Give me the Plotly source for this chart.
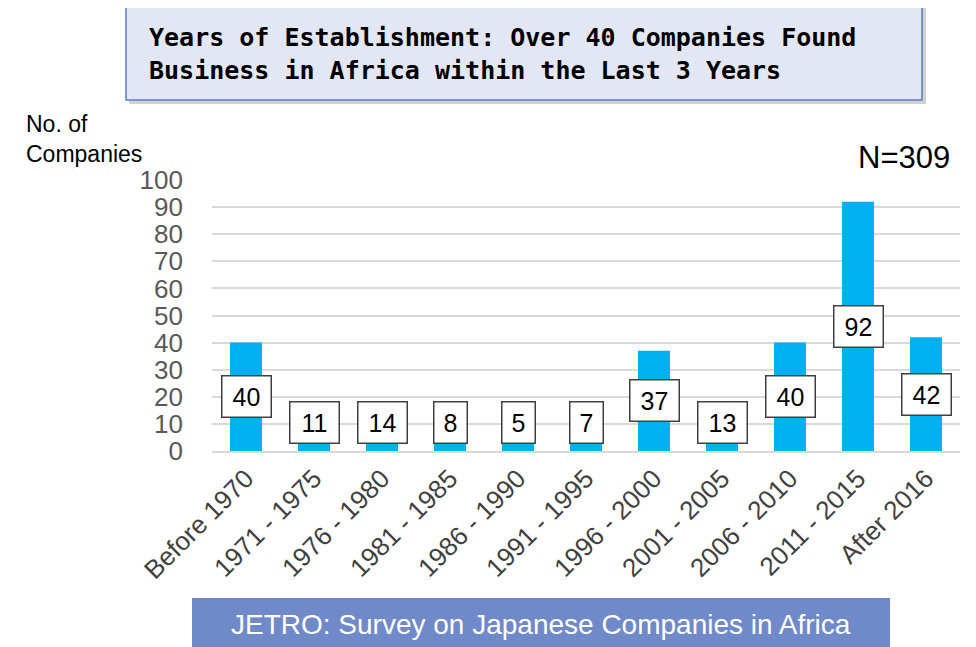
import plotly.graph_objects as go

categories = ["Before 1970", "1971 - 1975", "1976 - 1980", "1981 - 1985", "1986 - 1990",
              "1991 - 1995", "1996 - 2000", "2001 - 2005", "2006 - 2010", "2011 - 2015", "After 2016"]
companies = [40, 11, 14, 8, 5, 7, 37, 13, 40, 92, 42]
y_ticks = list(range(0, 101, 10))

title_lines = ["Years of Establishment: Over 40 Companies Found",
               "Business in Africa within the Last 3 Years"]
source_text = "JETRO: Survey on Japanese Companies in Africa"
n_text = "N=309"
y_title = "No. of<br>Companies"

OFF = 8  # page body margin in the browser
W, H = 976 - OFF, 647 - OFF
L, R, T, B = 212 - OFF, 960 - OFF, 180 - OFF, 451 - OFF  # plot area in figure pixels


def px(x):
    # x given in reference-image pixels
    return (x - OFF - L) / (R - L)


def py(y):
    return (B - (y - OFF)) / (B - T)


fig = go.Figure()
fig.add_trace(go.Bar(x=categories, y=companies, marker=dict(color="#00B0F0", line=dict(width=0)),
                     hoverinfo="x+y"))

annotations = []
min_label_y = 10.7
for c, v in zip(categories, companies):
    annotations.append(dict(
        x=c, y=max(v / 2, min_label_y), xref="x", yref="y", text=str(v), showarrow=False,
        font=dict(family="Liberation Sans, Arial", size=25, color="#000000"),
        bgcolor="#FFFFFF", bordercolor="#404040", borderwidth=1.5, borderpad=2,
        width=44 if len(str(v)) > 1 else 28, height=36, xanchor="center", yanchor="middle"))

# title text
annotations.append(dict(
    x=px(147), y=py(54), xref="paper", yref="paper", xanchor="left", yanchor="middle",
    text="<br>".join(title_lines), showarrow=False, align="left",
    font=dict(family="DejaVu Sans Mono", size=25, color="#000000", weight="bold")))
# y title
annotations.append(dict(
    x=px(24), y=py(109), xref="paper", yref="paper", xanchor="left", yanchor="top",
    text=y_title, showarrow=False, align="left",
    font=dict(family="Liberation Sans, Arial", size=23, color="#000000")))
# N=309
annotations.append(dict(
    x=px(952), y=py(157), xref="paper", yref="paper", xanchor="right", yanchor="middle",
    text=n_text, showarrow=False,
    font=dict(family="Liberation Sans, Arial", size=31, color="#000000")))
# source banner text
annotations.append(dict(
    x=px(541), y=py(624), xref="paper", yref="paper", xanchor="center", yanchor="middle",
    text=source_text, showarrow=False,
    font=dict(family="Liberation Sans, Arial", size=28, color="#FFFFFF")))

shapes = [
    # title box shadow
    dict(type="rect", xref="paper", yref="paper", x0=px(129), x1=px(926), y0=py(8), y1=py(104),
         fillcolor="rgba(0,0,0,0.18)", line=dict(width=0), layer="below"),
    # title box
    dict(type="rect", xref="paper", yref="paper", x0=px(126), x1=px(922), y0=py(4), y1=py(100),
         fillcolor="#E3E7F4", line=dict(color="#5B7CC4", width=1.5), layer="below"),
    # source banner
    dict(type="rect", xref="paper", yref="paper", x0=px(192), x1=px(890), y0=py(598), y1=py(660),
         fillcolor="#7089C8", line=dict(width=0), layer="below"),
]

fig.update_layout(
    width=W, height=H,
    margin=dict(l=L, r=W - R, t=T, b=H - B, pad=0),
    paper_bgcolor="#FFFFFF", plot_bgcolor="#FFFFFF",
    showlegend=False, bargap=0.53,
    annotations=annotations, shapes=shapes,
    font=dict(family="Liberation Sans, Arial"),
)
fig.update_yaxes(range=[0, 100], tickvals=y_ticks, showgrid=True, gridcolor="#D9D9D9", gridwidth=2,
                 zeroline=False, showline=False, ticks="", ticklabelstandoff=28,
                 tickfont=dict(family="Liberation Sans, Arial", size=26, color="#595959"))
fig.update_xaxes(tickangle=-45, showline=True, linecolor="#D9D9D9", linewidth=2, ticks="",
                 tickfont=dict(family="Liberation Sans, Arial", size=26, color="#404040"))

fig.write_html("out.html")
